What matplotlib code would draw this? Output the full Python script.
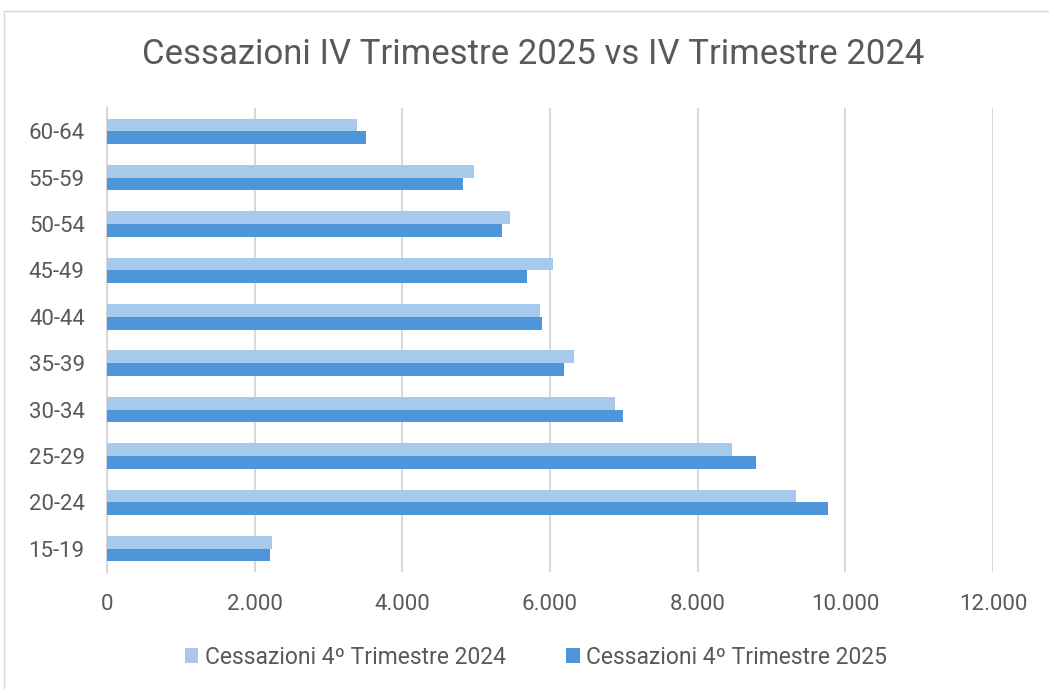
import matplotlib.pyplot as plt
from matplotlib.patches import Rectangle
from matplotlib.ticker import FuncFormatter
import numpy as np

plt.rcParams['font.family'] = ['Roboto', 'DejaVu Sans']

categories = ['15-19', '20-24', '25-29', '30-34', '35-39', '40-44', '45-49', '50-54', '55-59', '60-64']
cess_2024 = [2233, 9327, 8466, 6882, 6327, 5859, 6035, 5457, 4967, 3391]
cess_2025 = [2206, 9760, 8786, 6991, 6188, 5890, 5687, 5353, 4817, 3513]
labels = ['Cessazioni 4º Trimestre 2024', 'Cessazioni 4º Trimestre 2025']
title = 'Cessazioni IV Trimestre 2025 vs IV Trimestre 2024'

c_light = '#A6C9EC'
c_dark = '#4E95D9'
txt = '#595959'
grid = '#D9D9D9'

fig = plt.figure(figsize=(10.49, 6.89), dpi=100)
ax = fig.add_axes([0.102, 0.170, 0.8446, 0.673])

y = np.arange(len(categories))
h = 0.275
ax.barh(y + h / 2, cess_2024, height=h, color=c_light, label=labels[0], zorder=3)
ax.barh(y - h / 2, cess_2025, height=h, color=c_dark, label=labels[1], zorder=3)

ax.set_xlim(0, 12000)
ax.set_ylim(-0.5, len(categories) - 0.5)
ax.set_xticks(np.arange(0, 12001, 2000))
ax.xaxis.set_major_formatter(FuncFormatter(lambda v, p: f'{int(v):,}'.replace(',', '.')))
ax.set_yticks(y)
ax.set_yticklabels(categories)
ax.grid(axis='x', color=grid, linewidth=1.5, zorder=0)
for s in ['top', 'right', 'bottom']:
    ax.spines[s].set_visible(False)
ax.spines['left'].set_color(grid)
ax.spines['left'].set_linewidth(1.5)
ax.tick_params(axis='both', length=0, labelsize=16, labelcolor=txt)
ax.tick_params(axis='x', pad=16)
ax.tick_params(axis='y', pad=16)

fig.text(533 / 1049, 1 - 54 / 689, title, ha='center', va='center', fontsize=25, color=txt)

fig.legend(loc='center', bbox_to_anchor=(536 / 1049, 1 - 657 / 689), ncol=2, frameon=False,
           fontsize=16.5, labelcolor=txt, handlelength=0.6, handleheight=0.6,
           handletextpad=0.3, columnspacing=2.6)

fig.add_artist(Rectangle((4 / 1049, -0.1), 1.1, 1.1 - 11 / 689, transform=fig.transFigure,
                         fill=False, edgecolor=grid, linewidth=1))

fig.savefig('out.png', dpi=100)
